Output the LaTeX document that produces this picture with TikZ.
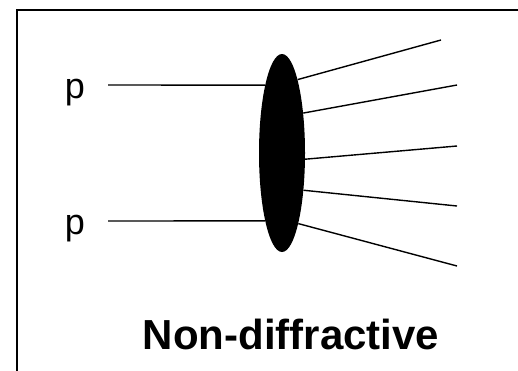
\documentclass[tikz,border=0pt]{standalone}
\usepackage{fontspec}
\setmainfont{Liberation Sans}
\usetikzlibrary{shapes.geometric}

\begin{document}
\begin{tikzpicture}[
    x=1pt, y=-1pt,
    blobnode/.style={ellipse, fill=black, draw=none, inner sep=0pt,
                     minimum width=46pt, minimum height=198pt},
    plabel/.style={anchor=base, inner sep=0pt, font=\fontsize{36}{40}\selectfont},
    leg/.style={line width=1.4pt},
]
  \useasboundingbox (0,0) rectangle (518,370);
  % frame (only top and left edges fall inside the page)
  \draw[line width=1.5pt] (17,10) rectangle (540,390);

  \node[blobnode] (blob) at (282,153) {};

  % incoming protons
  \node[plabel] (pup) at (75,98) {p};
  \node[plabel] (plow) at (75,234) {p};
  \coordinate (inup) at (108,85);
  \coordinate (inlow) at (108,221);
  \draw[leg] (inup) -- (blob.104);
  \draw[leg] (inlow) -- (blob.256);

  % outgoing particles
  \foreach \a/\pos [count=\i] in {78/{441,40}, 62/{457,85}, 345/{457,146}, 300/{457,206}, 283/{457,266}} {
    \coordinate (out\i) at (\pos);
    \draw[leg] (blob.\a) -- (out\i);
  }

  \node[anchor=base, inner sep=0pt, font=\fontsize{42}{48}\selectfont\bfseries] (title) at (291,349) {Non-diffractive};
\end{tikzpicture}
\end{document}
